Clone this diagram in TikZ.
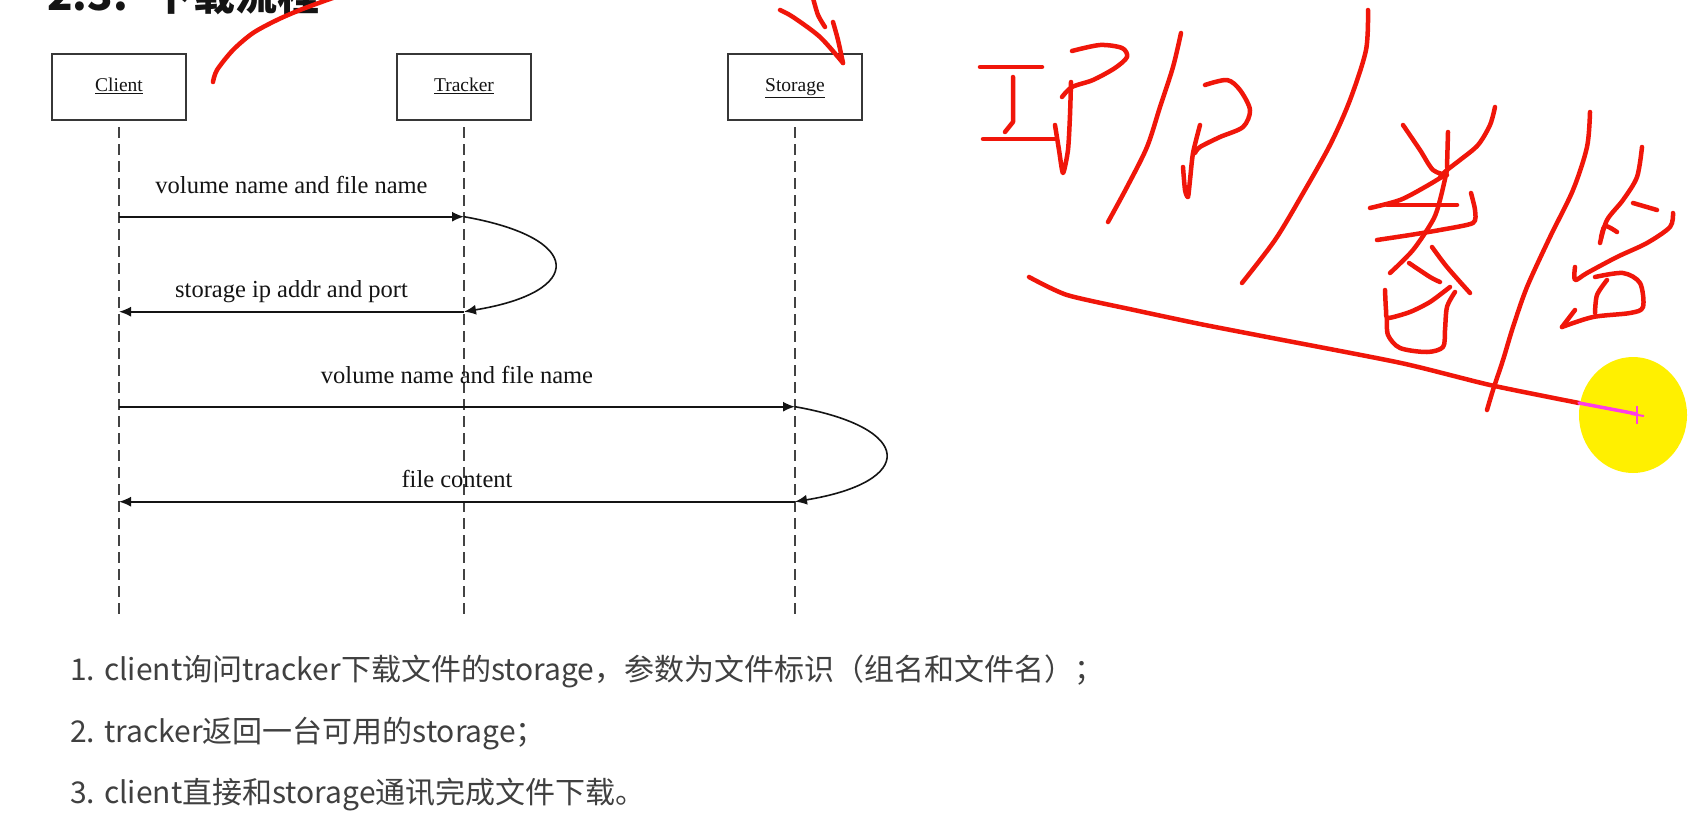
\documentclass[tikz,border=0pt]{standalone}
\usepackage{fontspec}
\setmainfont{Liberation Serif}
\newfontfamily\cjk{Noto Sans CJK SC}
\usetikzlibrary{arrows.meta}
\definecolor{penred}{RGB}{240,22,10}
\definecolor{hl}{RGB}{255,240,0}
\definecolor{cursor}{RGB}{255,60,230}
\definecolor{bodytext}{RGB}{64,64,64}
\definecolor{ink}{RGB}{20,20,20}
\begin{document}
\begin{tikzpicture}[x=1pt, y=-1pt,
  actor/.style={draw=ink!85, line width=1.8pt, fill=white, minimum width=134pt, minimum height=66pt, inner sep=0pt, text=ink, text height=13pt, text depth=4pt, font=\fontsize{19.5}{22}\selectfont},
  lifeline/.style={draw=ink!80, line width=1.8pt, dash pattern=on 11pt off 6pt},
  msg/.style={draw=ink, line width=1.6pt, -{Latex[length=12pt,width=10pt]}},
  lbl/.style={font=\fontsize{24.5}{28}\selectfont, text=ink, anchor=base, inner sep=0pt},
  pen/.style={draw=penred, line width=4.5pt, line cap=round, line join=round},
  body/.style={font=\cjk\fontsize{30}{36}\selectfont, text=bodytext, anchor=base west, inner sep=0pt}]
\path[use as bounding box, fill=white] (0,0) rectangle (1698,833);
\begin{scope}
\clip (0,0) rectangle (1698,833);

% title (cut off at top, as in the reference)
\node[font=\cjk\bfseries\fontsize{42}{48}\selectfont, anchor=base west, text=ink, inner sep=0pt] (title) at (47,10) {2.3.\hspace{24pt}下载流程};

% actors
\node[actor] (client) at (119,87) {\underline{Client}};
\node[actor] (tracker) at (464,87) {\underline{Tracker}};
\node[actor] (storage) at (795,87) {\underline{Storage}};

% lifelines
\coordinate (c0) at (119,127); \coordinate (c9) at (119,617);
\coordinate (t0) at (464,127); \coordinate (t9) at (464,617);
\coordinate (s0) at (795,127); \coordinate (s9) at (795,617);
\draw[lifeline] (c0) -- (c9);
\draw[lifeline] (t0) -- (t9);
\draw[lifeline] (s0) -- (s9);

% message points
\coordinate (c1) at (119,216.7); \coordinate (t1) at (464,216.7);
\coordinate (c2) at (119,311.7); \coordinate (t2) at (464,311.7);
\coordinate (c3) at (119,406.7); \coordinate (s3) at (795,406.7);
\coordinate (c4) at (119,501.7); \coordinate (s4) at (795,501.7);

\draw[msg] (c1) -- (t1);
\draw[msg] (t1) .. controls (585,238) and (585,292) .. (t2);
\draw[msg] (t2) -- (c2);
\draw[msg] (c3) -- (s3);
\draw[msg] (s3) .. controls (916,428) and (916,482) .. (s4);
\draw[msg] (s4) -- (c4);

\node[lbl] (l1) at (291.5,193) {volume name and file name};
\node[lbl] (l2) at (291.5,297) {storage ip addr and port};
\node[lbl] (l3) at (457,383) {volume name and file name};
\node[lbl] (l4) at (457,487) {file content};

% body text
\node[body] (b1) at (70,680) {1. client询问tracker下载文件的storage，参数为文件标识（组名和文件名）；};
\node[body] (b2) at (70,742) {2. tracker返回一台可用的storage；};
\node[body] (b3) at (70,803) {3. client直接和storage通讯完成文件下载。};

% handwritten annotations
\draw[pen] plot[smooth, tension=0.5] coordinates {(213,82) (217,70) (233,50) (253,33) (277,20) (300,10) (327,0) (345,-6)};
\draw[pen] plot[smooth, tension=0.5] coordinates {(780,10) (793,17) (820,37) (843,63)};
\draw[pen] plot[smooth, tension=0.5] coordinates {(813,-2) (818,15) (825,27)};
\draw[pen] plot[smooth, tension=0.5] coordinates {(833,22) (838,40) (843,63)};
% I
\draw[pen] (980,67) -- (1042,67);
\draw[pen] (1013,77) -- (1013,122) -- (1005,132);
\draw[pen] (983,139) -- (1055,139);
% P
\draw[pen] plot[smooth, tension=0.5] coordinates {(1072,51) (1100,45) (1122,48) (1127,57) (1115,68) (1093,80) (1072,87) (1062,97)};
\draw[pen] plot[smooth, tension=0.4] coordinates {(1055,125) (1059,150) (1063,173) (1068,150) (1070,115) (1071,82)};
% slash 1
\draw[pen] plot[smooth, tension=0.5] coordinates {(1181,33) (1173,67) (1160,107) (1147,147) (1127,187) (1108,222)};
% P
\draw[pen] plot[smooth, tension=0.5] coordinates {(1205,85) (1227,80) (1240,90) (1250,110) (1243,127) (1220,137) (1200,147) (1195,153)};
\draw[pen] plot[smooth, tension=0.4] coordinates {(1200,125) (1193,153) (1190,180) (1188,197) (1185,190) (1183,167)};
% slash 2
\draw[pen] plot[smooth, tension=0.5] coordinates {(1368,10) (1366,50) (1350,100) (1330,145) (1302,195) (1275,240) (1242,283)};
% juan
\draw[pen] plot[smooth, tension=0.5] coordinates {(1403,125) (1420,150) (1433,170) (1447,175)};
\draw[pen] plot[smooth, tension=0.5] coordinates {(1495,107) (1490,125) (1478,145) (1460,160) (1447,170) (1440,177)};
\draw[pen] (1448,132) -- (1447,167);
\draw[pen] plot[smooth, tension=0.5] coordinates {(1370,208) (1400,200) (1425,187) (1445,175)};
\draw[pen] (1387,205) -- (1457,205);
\draw[pen] plot[smooth, tension=0.4] coordinates {(1377,240) (1410,235) (1440,230) (1473,223) (1475,210) (1471,193)};
\draw[pen] plot[smooth, tension=0.5] coordinates {(1447,170) (1440,200) (1433,220) (1413,250) (1390,273)};
\draw[pen] plot[smooth, tension=0.5] coordinates {(1432,247) (1447,267) (1470,293)};
\draw[pen] plot[smooth, tension=0.5] coordinates {(1409,263) (1430,277) (1440,282)};
\draw[pen] plot[smooth, tension=0.4] coordinates {(1385,290) (1386,310) (1388,318) (1410,312) (1430,302) (1450,287)};
\draw[pen] plot[smooth, tension=0.5] coordinates {(1455,292) (1447,307) (1445,330) (1443,347) (1427,352) (1400,348) (1388,335) (1387,318)};
% slash 3
\draw[pen] plot[smooth, tension=0.5] coordinates {(1590,112) (1587,147) (1573,190) (1550,237) (1527,287) (1513,327) (1503,360) (1493,390) (1487,410)};
% bei
\draw[pen] plot[smooth, tension=0.5] coordinates {(1642,147) (1637,177) (1623,200) (1607,220) (1600,243)};
\draw[pen] plot[smooth, tension=0.5] coordinates {(1601,238) (1605,226) (1617,232)};
\draw[pen] (1633,203) -- (1657,210);
\draw[pen] plot[smooth, tension=0.5] coordinates {(1673,213) (1670,227) (1647,243) (1617,257) (1587,273) (1575,280) (1575,267)};
\draw[pen] plot[smooth, tension=0.5] coordinates {(1607,280) (1597,295) (1595,313)};
\draw[pen] plot[smooth, tension=0.5] coordinates {(1595,277) (1623,273) (1640,283) (1643,307) (1630,313) (1593,317) (1562,327)};
\draw[pen] (1575,310) -- (1562,327);
% underline stroke
\draw[pen] plot[smooth, tension=0.4] coordinates {(1029,277) (1067,295) (1134,310) (1200,324) (1267,337) (1401,363) (1490,385) (1579,403)};
% cursor highlight
\fill[hl] (1633,415) ellipse [x radius=54, y radius=58];
\draw[cursor, line width=3.5pt, line cap=round] (1579,403) -- (1637,414);
\draw[cursor, line width=2pt] (1637,406) -- (1637,424);
\draw[cursor, line width=2pt] (1631,414) -- (1644,416);
\end{scope}
\end{tikzpicture}
\end{document}
